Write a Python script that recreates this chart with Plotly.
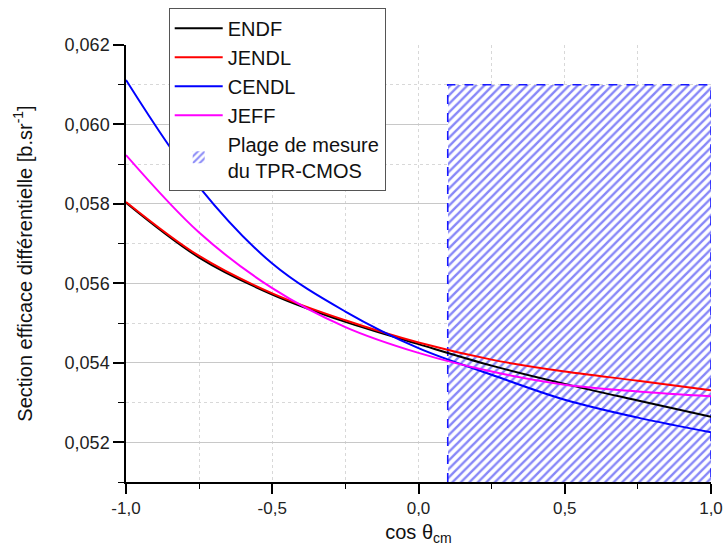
import plotly.graph_objects as go

cos_theta = [-1.0, -0.75, -0.5, -0.25, 0.0, 0.25, 0.5, 0.75, 1.0]
endf = [0.05803, 0.05665, 0.05572, 0.05503, 0.05447, 0.05393, 0.05347, 0.05305, 0.05264]
jendl = [0.05805, 0.05669, 0.05575, 0.05507, 0.05451, 0.05408, 0.05378, 0.05355, 0.05331]
cendl = [0.06112, 0.05843, 0.05650, 0.05529, 0.05437, 0.05370, 0.05307, 0.05262, 0.05225]
jeff = [0.05923, 0.05728, 0.05588, 0.05490, 0.05425, 0.05378, 0.05345, 0.05328, 0.05316]

range_start = 0.1
range_end = 1.0
range_low = 0.051
range_high = 0.061

x_ticks = [-1.0, -0.5, 0.0, 0.5, 1.0]
x_ticktext = ["-1,0", "-0,5", "0,0", "0,5", "1,0"]

series = [
    ("ENDF", endf, "#000000"),
    ("JENDL", jendl, "#ff0000"),
    ("CENDL", cendl, "#0000ff"),
    ("JEFF", jeff, "#ff00ff"),
]

FONT = "Liberation Sans, Arial, sans-serif"

fig = go.Figure()

# hatched measurement range (bar for the pattern + legend symbol)
fig.add_trace(go.Bar(
    x=[(range_start + range_end) / 2], y=[range_high - range_low], base=[range_low],
    width=[range_end - range_start],
    name="Plage de mesure<br>du TPR-CMOS",
    marker=dict(color="white", line=dict(width=0),
                pattern=dict(shape="/", fgcolor="#1010f0", bgcolor="white", size=6, solidity=0.4)),
    legendrank=5, hoverinfo="skip",
))
# dashed border of the range
fig.add_trace(go.Scatter(
    x=[range_start, range_start, range_end, range_end],
    y=[range_low, range_high, range_high, range_low],
    mode="lines", line=dict(color="#1818ff", width=1.6, dash="dash"),
    showlegend=False, hoverinfo="skip",
))

for i, (name, vals, col) in enumerate(series):
    fig.add_trace(go.Scatter(
        x=cos_theta, y=vals, mode="lines", name=name,
        line=dict(color=col, width=2, shape="spline"),
        legendrank=i + 1,
    ))

fig.update_layout(
    width=723, height=559,
    margin=dict(l=126, r=12, t=45, b=77, autoexpand=False),
    paper_bgcolor="white", plot_bgcolor="white",
    separators=",.",
    font=dict(family=FONT, size=18, color="#222"),
    showlegend=True,
    bargap=0,
    legend=dict(
        x=0.073, y=1.085, xanchor="left", yanchor="top",
        bgcolor="white", bordercolor="#555", borderwidth=1,
        font=dict(family=FONT, size=20, color="#111"),
        tracegroupgap=0, itemwidth=48,
    ),
)

fig.update_xaxes(
    range=[-1.0, 1.0], tickvals=x_ticks, ticktext=x_ticktext,
    showline=True, linecolor="black", linewidth=1.5,
    ticks="outside", ticklen=10, tickwidth=1.5, tickcolor="black",
    showgrid=False, zeroline=False, ticklabeloverflow="allow",
    minor=dict(dtick=0.25, tick0=0, ticks="outside", ticklen=5, tickwidth=1.2, tickcolor="black",
               showgrid=True, gridcolor="#d8d8d8", griddash="dot", gridwidth=1),
    title=dict(text="cos θ<sub>cm</sub>", font=dict(size=20, family=FONT, color="#111"), standoff=8),
    tickfont=dict(size=17, family=FONT, color="#222"),
)

fig.update_yaxes(
    range=[0.051, 0.062], tick0=0.052, dtick=0.002, tickformat=".3f",
    showline=True, linecolor="black", linewidth=1.5,
    ticks="outside", ticklen=11, tickwidth=1.5, tickcolor="black",
    showgrid=True, gridcolor="#c8c8c8", gridwidth=1, zeroline=False,
    minor=dict(dtick=0.001, tick0=0.051, ticks="outside", ticklen=6, tickwidth=1.2, tickcolor="black",
               showgrid=True, gridcolor="#d8d8d8", griddash="dot", gridwidth=1),
    title=dict(text="Section efficace différentielle [b.sr<sup>-1</sup>]",
               font=dict(size=20, family=FONT, color="#111"), standoff=27),
    tickfont=dict(size=18, family=FONT, color="#222"),
)

fig.write_html("out.html", config={"displayModeBar": False},
               post_script="document.body.style.margin='0px';document.body.style.overflow='hidden';")
